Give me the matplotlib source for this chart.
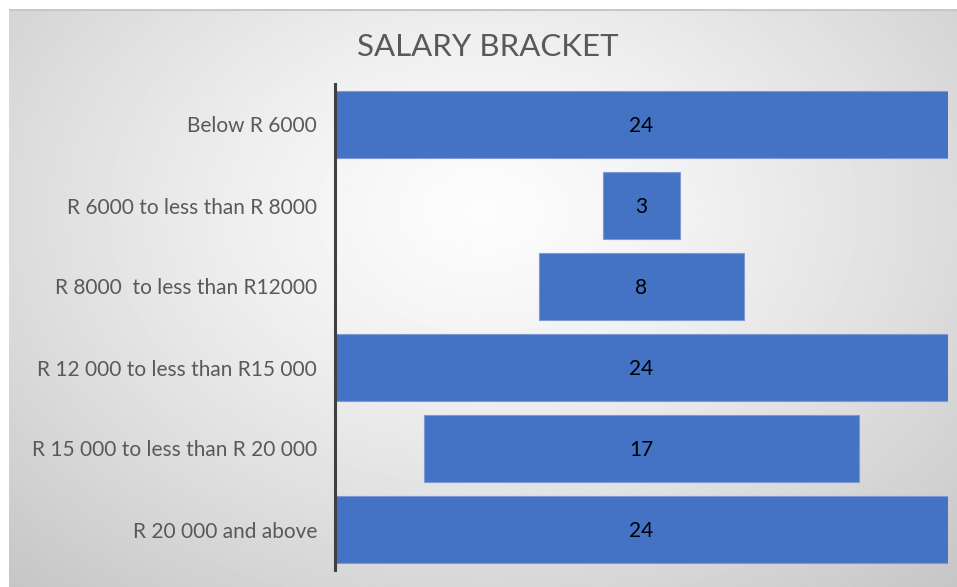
import matplotlib.pyplot as plt
import numpy as np

categories = ["Below R 6000", "R 6000 to less than R 8000", "R 8000  to less than R12000",
              "R 12 000 to less than R15 000", "R 15 000 to less than R 20 000", "R 20 000 and above"]
counts = [24, 3, 8, 24, 17, 24]

W, H = 957, 587
fig = plt.figure(figsize=(W / 100, H / 100), dpi=100)
fig.patch.set_facecolor("white")

# background panel with radial grey gradient
bg = fig.add_axes([9 / W, 0, 1 - 9 / W, 1 - 9 / H])
bg.set_axis_off()
yy, xx = np.mgrid[0:1:300j, 0:1:500j]
r = np.sqrt(((xx - 0.5) / 0.75) ** 2 + ((yy - 0.35) / 0.9) ** 2)
shade = 0.99 - 0.22 * np.clip(r, 0, 1) ** 1.3
bg.imshow(shade, cmap="gray", vmin=0, vmax=1, aspect="auto", extent=[0, 1, 1, 0])
bg.plot([0, 1], [0.998, 0.998], color="#c8c8c8", lw=1.5, transform=bg.transAxes)

ax = fig.add_axes([335 / W, 1 - 570 / H, (948 - 335) / W, (570 - 84) / H])
ax.patch.set_alpha(0)
ypos = np.arange(len(categories))
lefts = [-v / 2 for v in counts]
ax.barh(ypos, counts, left=lefts, height=0.83, color="#4472C4",
        edgecolor="#7d9ad4", linewidth=0.8)
for y, v in zip(ypos, counts):
    ax.text(0, y + 0.02, str(v), ha="center", va="center", fontsize=15,
            color="black", family="Lato")

ax.set_xlim(-12, 12)
ax.set_ylim(len(categories) - 0.5, -0.5)
ax.set_yticks(ypos)
ax.set_yticklabels(categories, fontsize=15, color="#595959", family="Lato")
ax.tick_params(axis="y", length=0, pad=13)
ax.set_xticks([])
for s in ["top", "right", "bottom"]:
    ax.spines[s].set_visible(False)
ax.spines["left"].set_color("#404040")
ax.spines["left"].set_linewidth(2.2)

fig.text(488 / W, 1 - 47 / H, "SALARY BRACKET", ha="center", va="center",
         fontsize=22.5, color="#595959", family="Lato")

fig.savefig("out.png", dpi=100)
